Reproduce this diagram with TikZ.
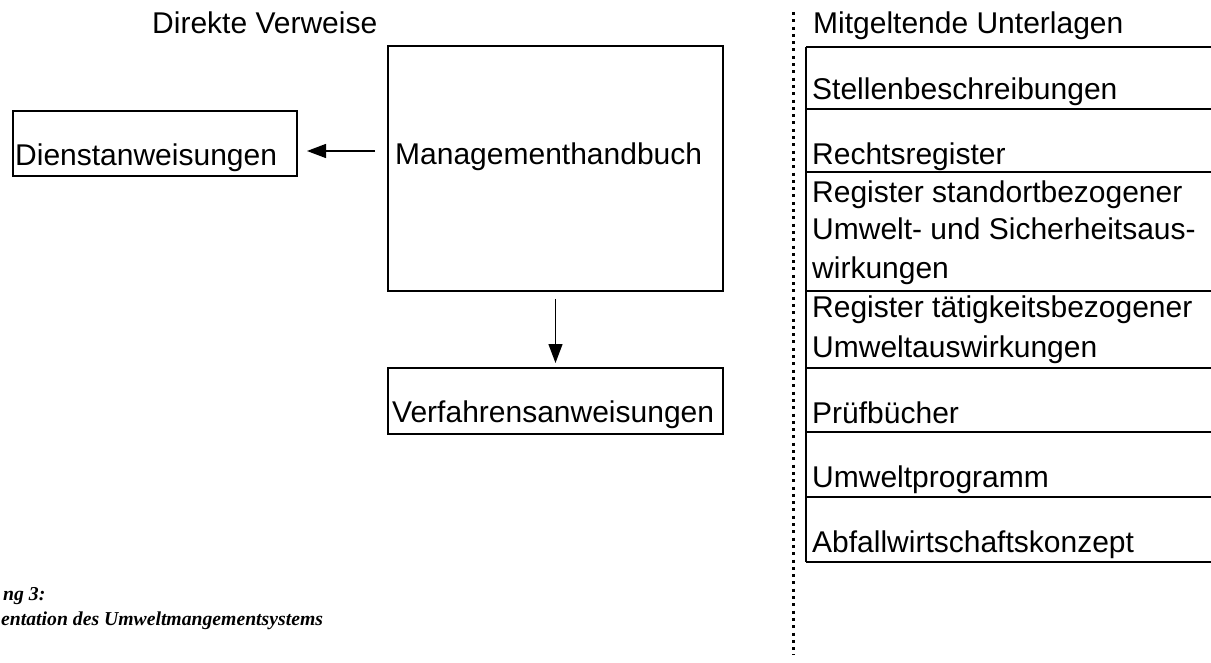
\documentclass[tikz,border=0pt]{standalone}
\usepackage{fontspec}
\setmainfont{Liberation Sans}
\newfontfamily\captionfont{Liberation Serif}
\usepackage[svgnames]{xcolor}
\usetikzlibrary{
  arrows.meta
}
\colorlet{docFrame}{black}
\colorlet{docText}{black}

\begin{document}
\begin{tikzpicture}[
  x=1pt,
  y=-1pt,
  every node/.style={
    inner sep=0pt,
    text=docText,
    font=\fontsize{30}{36}\selectfont,
  },
  doc box/.style={
    draw=docFrame,
    line width=2pt,
    anchor=north west,
  },
  doc text/.style={
    anchor=base west,
  },
  caption text/.style={
    anchor=base west,
    font=\captionfont\bfseries\itshape\fontsize{19.7}{24}\selectfont,
  },
  link/.style={
    draw=docFrame,
    line width=1.3pt,
    -{Triangle[length=19pt,width=14pt]},
  },
  table rule/.style={
    draw=docFrame,
    line width=2.5pt,
  },
  separator/.style={
    draw=docFrame,
    line width=3pt,
    dash pattern=on 3pt off 4.3pt,
  },
]
\useasboundingbox (0,0) rectangle (1211,663);
% direkte Verweise
\node[doc text] (verweise) at (152,34) {Direkte Verweise};
\node[doc box,minimum width=284pt,minimum height=65pt] (dienst) at (12,110) {};
\node[doc box,minimum width=335pt,minimum height=245pt] (handbuch) at (387,45) {};
\node[doc box,minimum width=335pt,minimum height=66pt] (verfahren) at (387,367) {};
\node[doc text] (dienstText) at (15,166) {Dienstanweisungen};
\node[doc text] (handbuchText) at (395,165) {Managementhandbuch};
\node[doc text] (verfahrenText) at (392,422) {Verfahrensanweisungen};
\draw[link,shorten <=12pt,shorten >=9pt] ([yshift=17.5pt]handbuch.west) -- ([yshift=-7.5pt]dienst.east);
\draw[link,shorten <=7pt,shorten >=4pt] (handbuch.south) -- (verfahren.north);
% Trennlinie
\draw[separator] (793,12) -- (793,655);
% mitgeltende Unterlagen
\node[doc text] (unterlagen) at (813,34) {Mitgeltende Unterlagen};
\draw[table rule] (806,47) -- (806,562);
\foreach \y in {47,109,172,291,368,432,497,562}
  \draw[table rule] (806,\y) -- (1211,\y);
\foreach \n/\y/\t in {
  stellen/100/Stellenbeschreibungen,
  recht/165/Rechtsregister,
  standortA/203/Register standortbezogener,
  standortB/240/Umwelt- und Sicherheitsaus-,
  standortC/279/wirkungen,
  taetigA/318/Register tätigkeitsbezogener,
  taetigB/357/Umweltauswirkungen,
  pruef/423/Prüfbücher,
  programm/487/Umweltprogramm,
  abfall/552/Abfallwirtschaftskonzept}
  \node[doc text] (\n) at (812,\y) {\t};
% Bildunterschrift
\node[caption text] (captionNo) at (3,600) {ng 3:};
\node[caption text] (captionTitle) at (1,625) {entation des Umweltmangementsystems};
\end{tikzpicture}
\end{document}
